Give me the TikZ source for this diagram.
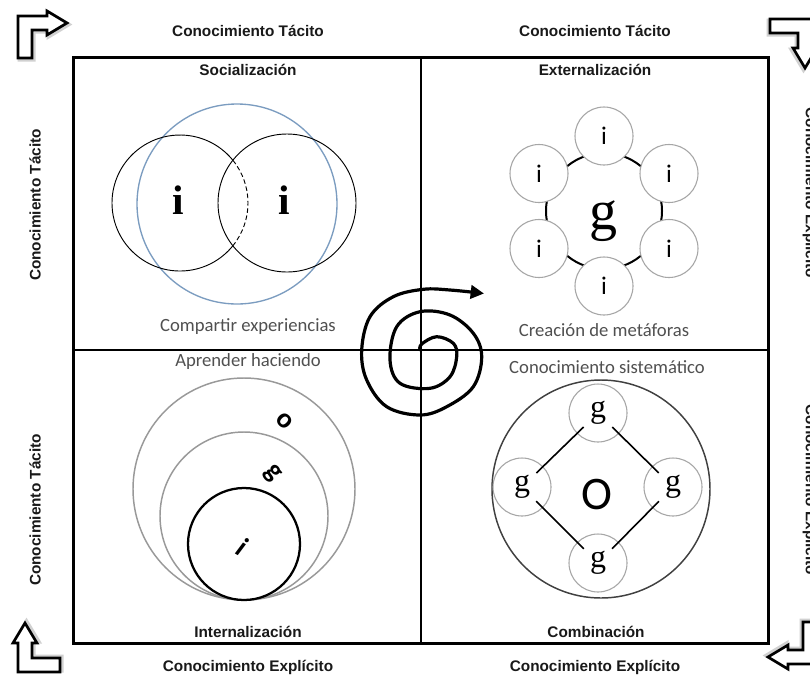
\documentclass[tikz,border=0pt]{standalone}
\usepackage{fontspec}
\setmainfont{Liberation Serif}
\newfontfamily\hdfont{Liberation Sans}
\newfontfamily\calfont{Carlito}
\usetikzlibrary{arrows.meta}
\definecolor{capgray}{HTML}{505050}
\definecolor{ringblue}{HTML}{7B9CC0}
\begin{document}
\begin{tikzpicture}[x=0.75pt,y=-0.75pt,
  hdr/.style={font=\hdfont\bfseries\fontsize{11.5}{13}\selectfont, text=black!90, inner sep=0pt},
  captxt/.style={font=\calfont\fontsize{14}{16}\selectfont, text=capgray, inner sep=0pt},
  ringc/.style={circle, draw=black!35, fill=white, line width=0.8pt, minimum size=43.5pt, inner sep=0pt},
  bentarrow/.pic={
    \draw[line width=3pt, draw=black!18, shift={(1.5,1.5)}] (0,42) -- (0,0) -- (29,0) -- (29,-5) -- (49,7) -- (29,19) -- (29,14) -- (14,14) -- (14,42) -- cycle;
    \draw[line width=2pt, fill=white, line join=miter] (0,42) -- (0,0) -- (29,0) -- (29,-5) -- (49,7) -- (29,19) -- (29,14) -- (14,14) -- (14,42) -- cycle;
  }]
\useasboundingbox (0,0) rectangle (810,679);
\clip (0,0) rectangle (810,679);
\fill[white] (0,0) rectangle (810,679);

% corner arrows
\pic at (18,16) {bentarrow};
\pic[rotate=-90] at (812,19) {bentarrow};
\pic[rotate=180] at (817,664) {bentarrow};
\pic[rotate=90] at (18,672) {bentarrow};

% frame
\draw[line width=2.25pt] (73,57) rectangle (768,643);
\coordinate (vt) at (421,57);
\coordinate (vb) at (421,643);
\coordinate (hl) at (73,350);
\coordinate (hr) at (768,350);
\draw[line width=1.4pt] (vt) -- (vb);
\draw[line width=1.4pt] (hl) -- (hr);

% outer labels
\node[hdr] (t1) at (248,31) {Conocimiento Tácito};
\node[hdr] (t2) at (595,31) {Conocimiento Tácito};
\node[hdr] (b1) at (248,667) {Conocimiento Explícito};
\node[hdr] (b2) at (595,667) {Conocimiento Explícito};
\node[hdr,rotate=90] (l1) at (35,205) {Conocimiento Tácito};
\node[hdr,rotate=90] (l2) at (35,510) {Conocimiento Tácito};
\node[hdr,rotate=-90] (r1) at (810,193) {Conocimiento Explícito};
\node[hdr,rotate=-90] (r2) at (810,490) {Conocimiento Explícito};

% quadrant titles
\node[hdr] (soc) at (248,70) {Socialización};
\node[hdr] (ext) at (595,70) {Externalización};
\node[hdr] (int) at (248,632) {Internalización};
\node[hdr] (com) at (596,632) {Combinación};

% captions
\node[captxt] (c1) at (248,327) {Compartir experiencias};
\node[captxt] (c2) at (604,330) {Creación de metáforas};
\node[captxt] (c3) at (248,362) {Aprender haciendo};
\node[captxt] (c4) at (607,367) {Conocimiento sistemático};

% Socialización
\node[circle, draw=ringblue, line width=1pt, minimum size=150pt, inner sep=0pt] (soccirc) at (237,204) {};
\draw[line width=0.7pt] (180,203) ++(38.9:68) arc[start angle=38.9, end angle=321.1, radius=68];
\draw[line width=0.7pt, dash pattern=on 3.5pt off 2pt] (180,203) ++(-38.9:68) arc[start angle=-38.9, end angle=38.9, radius=68];
\node[circle, draw, line width=0.7pt, minimum size=103.5pt, inner sep=0pt] (ri) at (287,203) {};
\node[font=\bfseries\fontsize{31}{31}\selectfont] (i1) at (178,200) {i};
\node[font=\bfseries\fontsize{31}{31}\selectfont] (i2) at (284,200) {i};

% Externalización
\node[circle, draw=black, line width=1.5pt, minimum size=87pt, inner sep=0pt] (ring) at (604,211) {};
\foreach \n/\xx/\yy in {e1/604/136, e2/669/173.5, e3/669/248.5, e4/604/286, e5/539/248.5, e6/539/173.5}{
  \node[ringc, font=\calfont\fontsize{19}{19}\selectfont] (\n) at (\xx,\yy) {i};
}
\node[font=\fontsize{42}{42}\selectfont] (gbig) at (603,221) {g};

% Internalización
\node[circle, draw=black!40, line width=1.1pt, minimum size=166.5pt, inner sep=0pt] (oc) at (244,489) {};
\node[circle, draw=black!40, line width=1.1pt, minimum size=126pt, inner sep=0pt] (gc) at (244,516) {};
\node[circle, draw=black, line width=1.7pt, minimum size=84pt, inner sep=0pt] (ic) at (244,544) {};
\node[font=\calfont\bfseries\fontsize{21}{21}\selectfont, rotate=-45] (lo) at (285,421) {o};
\node[font=\calfont\bfseries\fontsize{21}{21}\selectfont, rotate=-50] (lg) at (272,474) {g};
\node[font=\calfont\bfseries\itshape\fontsize{21}{21}\selectfont, rotate=-30] (li) at (242,547) {i};

% Combinación
\node[circle, draw=black!75, line width=1.1pt, minimum size=163.5pt, inner sep=0pt] (orgc) at (601,489) {};
\foreach \n/\xx/\yy in {gt/598/413, gl/522/487, gr/673/487, gb/598/563}{
  \node[ringc, font=\fontsize{24}{24}\selectfont] (\n) at (\xx,\yy) {g};
}
\draw[line width=1.2pt, shorten <=15pt, shorten >=15pt] (gt.center) -- (gl.center);
\draw[line width=1.2pt, shorten <=15pt, shorten >=15pt] (gt.center) -- (gr.center);
\draw[line width=1.2pt, shorten <=15pt, shorten >=15pt] (gl.center) -- (gb.center);
\draw[line width=1.2pt, shorten <=15pt, shorten >=15pt] (gr.center) -- (gb.center);
\node[font=\calfont\fontsize{35}{35}\selectfont] (bigo) at (597,495) {O};

% spiral
\draw[line width=2.4pt, line cap=round, -{Triangle[length=10pt,width=10pt]}] plot[smooth, tension=0.6] coordinates {
 (420,350) (421.7,344) (436.7,336.7) (453.3,343.3) (456.7,356.7) (450,376.7) (430,388.3)
 (400,383.3) (390,360) (396.7,326.7) (420,311.7) (450,315) (473.3,333.3) (481.7,356.7)
 (473.3,386.7) (446.7,406.7) (420,415) (386.7,406.7) (366.7,380) (361.7,350) (370,316.7)
 (393.3,296.7) (423.3,289.3) (450,290) (484,293.5)};
\end{tikzpicture}
\end{document}
